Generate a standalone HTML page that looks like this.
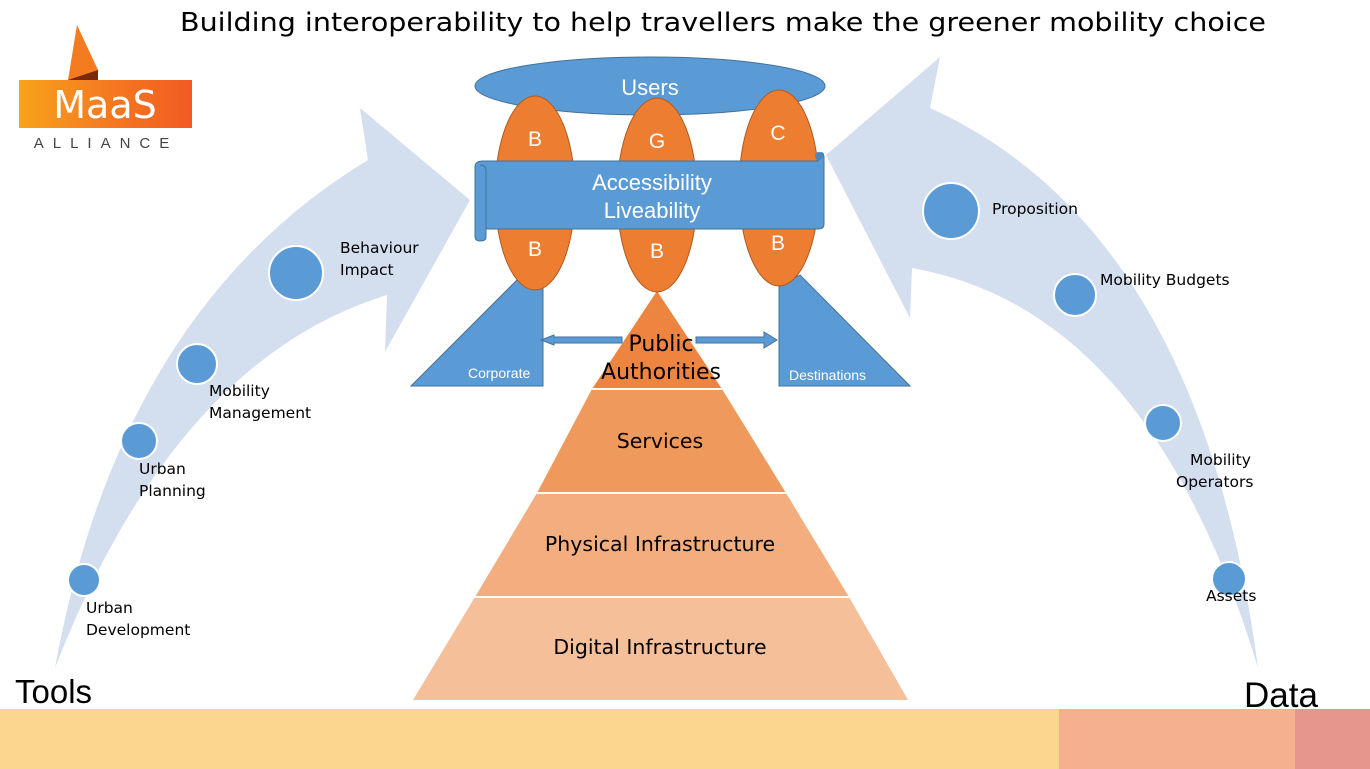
<!DOCTYPE html>
<html><head><meta charset="utf-8"><style>
html,body{margin:0;padding:0;background:#fff;}
svg{display:block;font-family:"Liberation Sans",sans-serif;}
</style></head><body>
<svg width="1370" height="769" viewBox="0 0 1370 769" xmlns="http://www.w3.org/2000/svg">
<defs>
<linearGradient id="lg" x1="0" y1="0" x2="1" y2="0">
<stop offset="0" stop-color="#F9A21B"/><stop offset="0.5" stop-color="#F47B20"/><stop offset="1" stop-color="#F15A22"/>
</linearGradient>
</defs>
<rect x="0" y="0" width="1370" height="769" fill="#fff"/>
<text x="180" y="31" font-size="26" fill="#000" font-family="DejaVu Sans, sans-serif" textLength="1086" lengthAdjust="spacingAndGlyphs">Building interoperability to help travellers make the greener mobility choice</text>

<!-- logo -->
<polygon points="77,25 98,70 98,80 68,80" fill="#F47B20"/>
<polygon points="68,80 98,70 98,80" fill="#7A2A0A"/>
<rect x="19" y="80" width="173" height="48" fill="url(#lg)"/>
<text x="105" y="118" font-size="38" fill="#fff" text-anchor="middle" font-family="DejaVu Sans, sans-serif">MaaS</text>
<text x="106" y="148" font-size="15" fill="#444" text-anchor="middle" letter-spacing="9">ALLIANCE</text>

<!-- left arrow -->
<path d="M55,668 Q120,310 368,160 L360,108 L470,200 L385,352 L387,295 Q175,360 55,668 Z" fill="#D3DEEF"/>
<!-- right arrow -->
<path d="M1258,668 Q1200,230 930,108 L940,57 L826,155 L910,318 L912,268 Q1150,310 1258,668 Z" fill="#D3DEEF"/>

<!-- circles -->
<g fill="#5B9BD5" stroke="#fff" stroke-width="2">
<circle cx="84" cy="580" r="16"/><circle cx="139" cy="441" r="18"/><circle cx="197" cy="364" r="20"/><circle cx="296" cy="273" r="27"/>
<circle cx="951" cy="211" r="28"/><circle cx="1075" cy="295" r="21"/><circle cx="1163" cy="423" r="18"/><circle cx="1229" cy="579" r="17"/>
</g>
<g font-size="15.5" fill="#000" font-family="DejaVu Sans, sans-serif">
<text x="86" y="613">Urban</text><text x="86" y="635">Development</text>
<text x="139" y="474">Urban</text><text x="139" y="496">Planning</text>
<text x="209" y="396">Mobility</text><text x="209" y="418">Management</text>
<text x="340" y="253">Behaviour</text><text x="340" y="275">Impact</text>
<text x="992" y="214">Proposition</text>
<text x="1100" y="285">Mobility Budgets</text>
<text x="1190" y="465">Mobility</text><text x="1176" y="487">Operators</text>
<text x="1206" y="601">Assets</text>
</g>

<!-- pyramid -->
<polygon points="657,291 722,389 592,389" fill="#ED8541"/>
<polygon points="592,389 722,389 786,493 537,493" fill="#F0995C"/>
<polygon points="537,493 786,493 849,597 475,597" fill="#F3AD7E"/>
<polygon points="475,597 849,597 908,700 413,700" fill="#F5BF9A"/>
<g stroke="#fff" stroke-width="2"><line x1="592" y1="389" x2="722" y2="389"/><line x1="537" y1="493" x2="786" y2="493"/><line x1="475" y1="597" x2="849" y2="597"/></g>
<g font-size="20.5" fill="#000" text-anchor="middle" font-family="DejaVu Sans, sans-serif">
<text x="660" y="448">Services</text>
<text x="660" y="551">Physical Infrastructure</text>
<text x="660" y="654">Digital Infrastructure</text>
</g>

<!-- side triangles -->
<polygon points="411,386 517,280 543,280 543,386" fill="#5B9BD5" stroke="#41719C" stroke-width="1"/>
<polygon points="779,287 800,275 910,386 779,386" fill="#5B9BD5" stroke="#41719C" stroke-width="1"/>
<text x="468" y="378" font-size="14" fill="#fff">Corporate</text>
<text x="789" y="380" font-size="14" fill="#fff">Destinations</text>

<!-- arrows -->
<polygon points="622,337 554,337 554,335 541,340 554,345 554,343 622,343" fill="#5B9BD5" stroke="#41719C"/>
<polygon points="696,337 764,337 764,332 777,340 764,348 764,343 696,343" fill="#5B9BD5" stroke="#41719C"/>
<g font-size="22" fill="#000" text-anchor="middle" font-family="DejaVu Sans, sans-serif">
<text x="661" y="351">Public</text><text x="661" y="379">Authorities</text>
</g>

<!-- users -->
<ellipse cx="650" cy="86" rx="175" ry="29" fill="#5B9BD5" stroke="#41719C"/>
<text x="650" y="95" font-size="22" fill="#fff" text-anchor="middle">Users</text>

<!-- orange ellipses -->
<g fill="#ED7D31" stroke="#AE5A21" stroke-width="1">
<ellipse cx="535" cy="193" rx="40" ry="97"/>
<ellipse cx="657" cy="195" rx="40" ry="97"/>
<ellipse cx="779" cy="188" rx="40" ry="98"/>
</g>
<g font-size="21" fill="#fff" text-anchor="middle">
<text x="535" y="146">B</text><text x="657" y="148">G</text><text x="778" y="140">C</text>
<text x="535" y="256">B</text><text x="657" y="258">B</text><text x="778" y="250">B</text>
</g>

<!-- banner -->
<path d="M483,161 L818,161 L818,154 Q824,150 824,158 L824,224 Q824,229 818,229 L486,229 L486,237 Q486,241 480,241 Q475,241 475,236 L475,167 Q475,161 483,161 Z" fill="#5B9BD5" stroke="#41719C" stroke-width="1"/>
<path d="M480,165 Q486,165 486,171 L486,229" fill="none" stroke="#41719C"/>
<circle cx="819" cy="156" r="4" fill="#4A86BF"/>
<g font-size="22" fill="#fff" text-anchor="middle">
<text x="652" y="190">Accessibility</text><text x="652" y="218">Liveability</text>
</g>

<!-- bottom -->
<rect x="0" y="709" width="1059" height="60" fill="#FCD68E"/>
<rect x="1059" y="709" width="236" height="60" fill="#F5B18F"/>
<rect x="1295" y="709" width="75" height="60" fill="#E6968C"/>
<text x="15" y="703" font-size="33" fill="#000">Tools</text>
<text x="1244" y="707" font-size="35" fill="#000">Data</text>
</svg>
</body></html>
